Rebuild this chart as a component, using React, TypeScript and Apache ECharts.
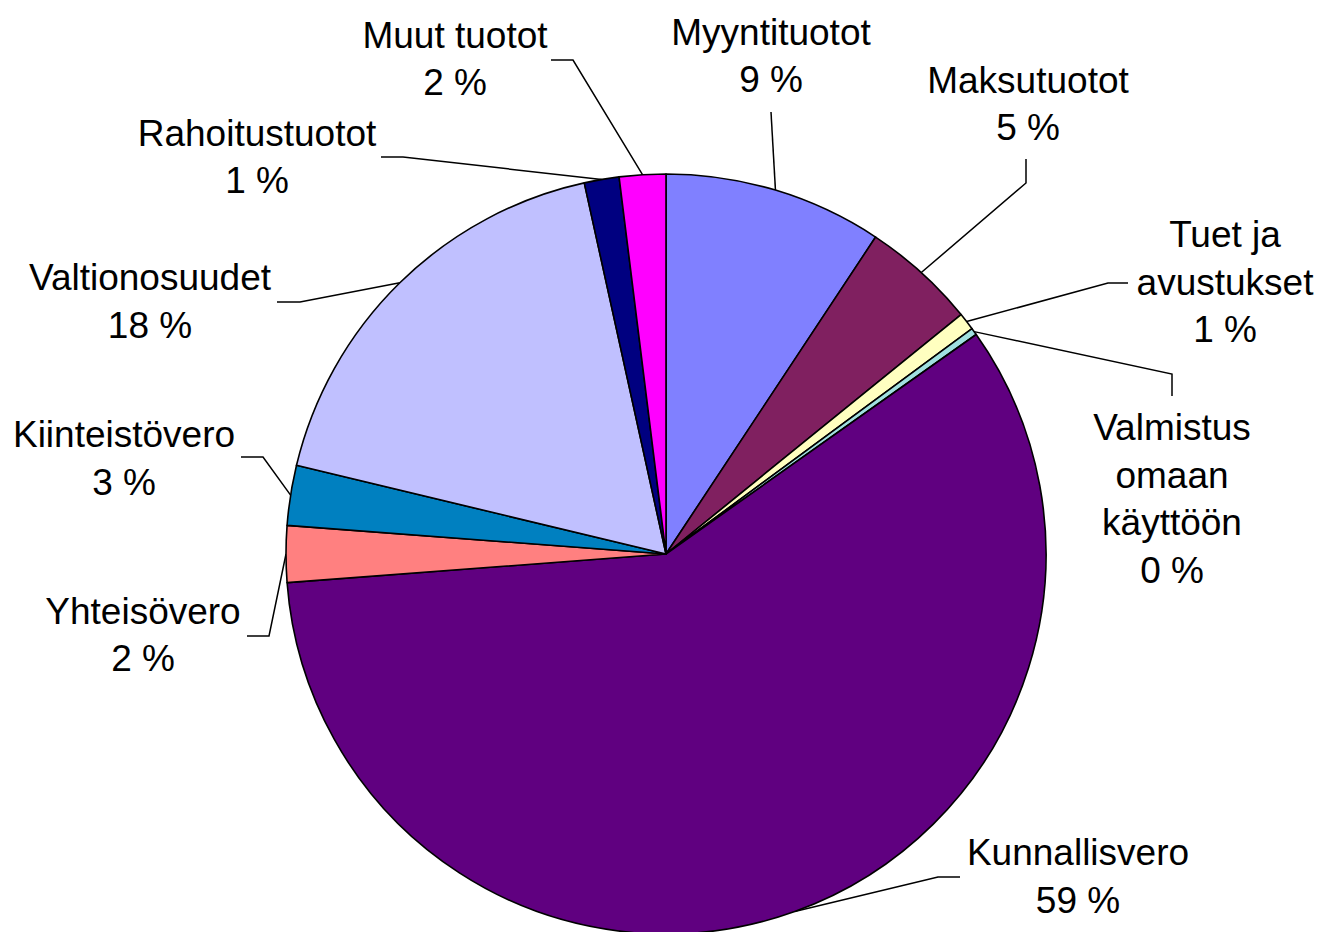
import React, { useEffect, useRef } from 'react';
import * as echarts from 'echarts';

// ---- data ----
const categories = [
  'Myyntituotot',
  'Maksutuotot',
  'Tuet ja\navustukset',
  'Valmistus\nomaan\nkäyttöön',
  'Kunnallisvero',
  'Yhteisövero',
  'Kiinteistövero',
  'Valtionosuudet',
  'Rahoitustuotot',
  'Muut tuotot',
];
const shares = [9.3, 4.85, 0.75, 0.3, 58.6, 2.4, 2.55, 17.8, 1.48, 1.97];

// ---- styles ----
const sliceColors = [
  '#8080FF',
  '#802060',
  '#FFFFC0',
  '#A0E0E0',
  '#600080',
  '#FF8080',
  '#0080C0',
  '#C0C0FF',
  '#000080',
  '#FF00FF',
];

// ---- label layout: centre of each label block, bend points of each leader ----
const labelCenters: number[][] = [
  [771, 56],
  [1028, 104],
  [1225, 282],
  [1172, 499],
  [1078, 876.5],
  [143, 635],
  [124, 458.5],
  [150, 301.5],
  [257, 157],
  [455, 59],
];
const leaderBends: number[][][] = [
  [[771, 112]],
  [[1026, 183], [1026, 159]],
  [[1108, 283], [1128, 283]],
  [[1172, 374], [1172, 396]],
  [[938, 877], [960, 877]],
  [[269, 636], [247, 636]],
  [[263, 457], [241, 457]],
  [[300, 302], [277, 302]],
  [[403, 157], [381, 157]],
  [[573, 60], [551, 60]],
];

export default function App() {
  const ref = useRef<HTMLDivElement>(null);

  useEffect(() => {
    if (!ref.current) return;
    const chart = echarts.init(ref.current, undefined, { renderer: 'svg' });
    chart.setOption({
      animation: false,
      backgroundColor: '#ffffff',
      series: [
        {
          type: 'pie',
          center: [666, 554],
          radius: 380,
          startAngle: 90,
          clockwise: true,
          avoidLabelOverlap: false,
          percentPrecision: 0,
          minShowLabelAngle: 0,
          silent: true,
          itemStyle: { borderColor: '#000000', borderWidth: 1.6 },
          label: {
            show: true,
            position: 'outside',
            formatter: '{b}\n{d} %',
            fontFamily: '"Liberation Sans", Arial, sans-serif',
            fontSize: 37,
            lineHeight: 47.5,
            color: '#000000',
            align: 'center',
          },
          labelLine: {
            show: true,
            length: 20,
            length2: 20,
            lineStyle: { color: '#000000', width: 1.5 },
          },
          emphasis: { disabled: true },
          labelLayout: (params: any) => {
            const i = params.dataIndex;
            const [x, y] = labelCenters[i];
            const pts = params.labelLinePoints;
            const res: any = { x, y, align: 'center', verticalAlign: 'middle' };
            if (pts && pts.length) {
              res.labelLinePoints = [pts[0], ...leaderBends[i]];
            }
            return res;
          },
          data: categories.map((name, i) => ({
            name,
            value: shares[i],
            itemStyle: { color: sliceColors[i] },
          })),
        },
      ],
    });
    return () => chart.dispose();
  }, []);

  return (
    <div
      ref={ref}
      style={{ position: 'absolute', left: 0, top: 0, width: 1333, height: 932, background: '#fff' }}
    />
  );
}
